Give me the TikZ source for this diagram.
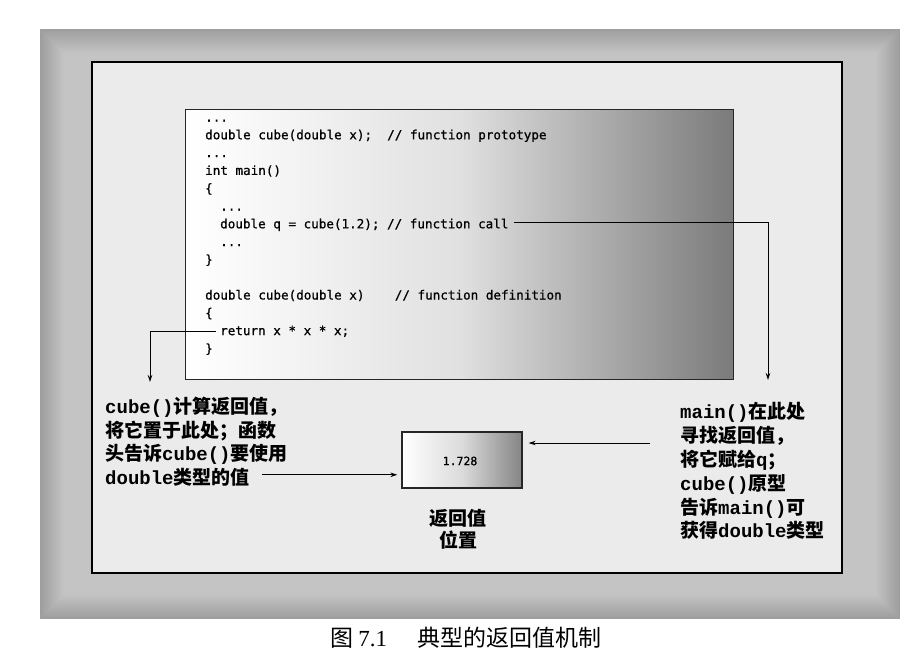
\documentclass[tikz,border=0pt]{standalone}
\usepackage{fontspec}
\setmainfont{Liberation Serif}
\newfontfamily\codefont{DejaVu Sans Mono}[FakeBold=0.8]
\newfontfamily\cjkfont{Noto Sans CJK SC}
\newfontfamily\latmono{Liberation Mono}
\usetikzlibrary{arrows.meta}
\newcommand\lt[1]{{\latmono\bfseries #1}}
\tikzset{
  code/.style={anchor=base west, inner sep=0pt, font=\codefont\fontsize{12.6}{15}\selectfont},
  lab/.style={anchor=base west, inner sep=0pt, font=\cjkfont\bfseries\fontsize{19}{23.8}\selectfont},
  arr/.style={-{Stealth[length=7pt,width=4.5pt]}, line width=0.9pt},
  panel/.style={draw=black, line width=1.6pt, fill=black!8},
  codebox/.style={draw=black!85, line width=1.2pt, left color=white, right color=black!52, middle color=black!12},
  valbox/.style={draw=black!85, line width=1.3pt, left color=white, right color=black!48, middle color=black!14},
}
\begin{document}
\begin{tikzpicture}[x=1pt,y=-1pt]
\useasboundingbox (0,0) rectangle (917,670);
\fill[white] (0,0) rectangle (917,670);
% outer gray vignette
\foreach \i in {0,...,15}{
  \pgfmathsetmacro\gv{38-\i*1.0}
  \fill[black!\gv] (40+\i*1.6,29+\i*1.6) rectangle (900-\i*1.6,619-\i*1.6);
}
% inner panel
\draw[panel] (92,62) rectangle (842,573);
% code box
\node[codebox, minimum width=548pt, minimum height=270pt, inner sep=0pt, anchor=north west] (cbox) at (185,109) {};
% code lines (centre y = 117 + 17.8 i, baseline = centre + 4.5)
\node[code] (l0)  at (205,121.5) {...};
\node[code] (l1)  at (205,139.3) {double cube(double x);~~// function prototype};
\node[code] (l2)  at (205,157.1) {...};
\node[code] (l3)  at (205,174.9) {int main()};
\node[code] (l4)  at (205,192.7) {\{};
\node[code] (l5)  at (220,210.5) {...};
\node[code] (l6)  at (220,228.3) {double q = cube(1.2); // function call};
\node[code] (l7)  at (220,246.1) {...};
\node[code] (l8)  at (205,263.9) {\}};
\node[code] (l10) at (205,299.5) {double cube(double x)~~~~// function definition};
\node[code] (l11) at (205,317.3) {\{};
\node[code] (l12) at (220,335.1) {return x * x * x;};
\node[code] (l13) at (205,352.9) {\}};
% return value box
\node[valbox, minimum width=120pt, minimum height=56pt, inner sep=0pt] (box) at (462,460) {};
\node[font=\codefont\fontsize{11.5}{13}\selectfont] (val) at (460,461) {1.728};
\node[font=\cjkfont\bfseries\fontsize{19}{22}\selectfont, align=center] (loc) at (458,529) {返回值\\位置};
% left label
\node[lab] (ll1) at (105,413) {\lt{cube()}计算返回值，};
\node[lab] (ll2) at (105,437) {将它置于此处；函数};
\node[lab] (ll3) at (105,460) {头告诉\lt{cube()}要使用};
\node[lab] (ll4) at (105,484) {\lt{double}类型的值};
% right label
\node[lab] (rl1) at (680,418) {\lt{main()}在此处};
\node[lab] (rl2) at (680,442) {寻找返回值，};
\node[lab] (rl3) at (680,466) {将它赋给\lt{q}；};
\node[lab] (rl4) at (680,490) {\lt{cube()}原型};
\node[lab] (rl5) at (680,514) {告诉\lt{main()}可};
\node[lab] (rl6) at (680,537) {获得\lt{double}类型};
% connectors
\coordinate (ltip) at (150,382);
\coordinate (rtip) at (768,380);
\coordinate (rstart) at (650,443);
\draw[arr] ([xshift=-4pt]l12.west) -| (ltip);
\draw[arr] ([xshift=5pt,yshift=2pt]l6.east) -| (rtip);
\draw[arr, shorten >=4pt] ([xshift=12pt,yshift=2pt]ll4.east) -- ([yshift=2pt]ll4.east -| box.west);
\draw[arr, shorten >=6pt] (rstart) -- (rstart -| box.east);
% caption
\node[anchor=west, inner sep=0pt, font=\cjkfont\fontsize{23}{26}\selectfont] (cap) at (330,638) {图 {\rmfamily 7.1}\hspace{30pt}典型的返回值机制};
\end{tikzpicture}
\end{document}
